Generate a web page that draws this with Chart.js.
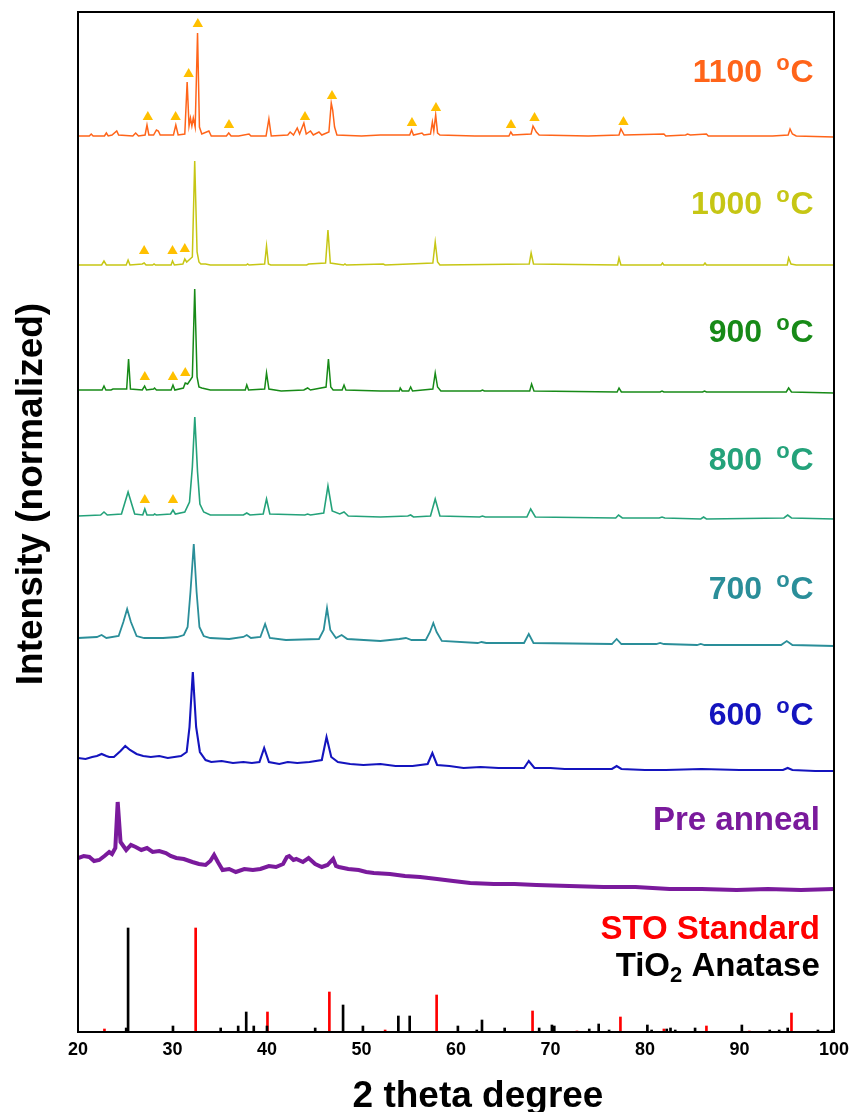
<!DOCTYPE html>
<html lang="en">
<head>
<meta charset="UTF-8">
<title>XRD anneal series</title>
<script src="https://cdn.jsdelivr.net/npm/chart.js"></script>
<style>
  body { margin: 0; background: #fff; }
  #wrap { position: relative; width: 851px; height: 1112px; }
</style>
</head>
<body>
<div id="wrap"><canvas id="xrd"></canvas></div>
<script>
// [2theta, stacked intensity], arbitrary units (offsets included)
const trace1100 = [[20,896],[21.2,896],[21.4,898],[21.6,896],[22.8,896],[23.0,899],[23.2,896],[23.6,897],[24.1,901],[24.3,897],[25.8,896],[26.1,899],[26.4,896],[27.1,897],[27.3,907],[27.5,897],[28.0,897],[28.3,902],[28.5,901],[28.7,897],[30.1,897],[30.35,907],[30.6,897],[31.3,898],[31.55,950],[31.75,906],[31.9,914],[32.05,906],[32.2,914],[32.4,905],[32.65,999],[32.85,905],[33.1,898],[33.85,901],[34.1,896],[35.7,896],[35.95,899],[36.2,896],[37.0,896],[38.1,898],[38.3,896],[39.9,896],[40.2,913],[40.45,896],[42.2,897],[42.45,900],[42.8,897],[43.2,904],[43.45,898],[43.9,909],[44.15,898],[44.6,901],[44.9,897],[45.5,900],[45.8,897],[46.55,900],[46.8,929],[46.95,922],[47.15,905],[47.4,897],[50,896],[52.0,897],[53.0,897],[55.1,897],[55.3,902],[55.5,897],[56.4,899],[56.6,897],[57.3,898],[57.5,910],[57.65,901],[57.85,917],[58.05,899],[58.3,897],[62,896],[65.6,896],[65.8,900],[66.0,897],[67.95,898],[68.15,906],[68.5,900],[68.8,897],[74,896],[77.25,897],[77.45,903],[77.8,897],[82.0,898],[82.2,896],[84.3,897],[84.5,898],[84.8,897],[86.5,898],[86.7,896],[93.5,896],[95.15,897],[95.35,903],[95.6,898],[96,896],[100,895]];
const trace1000 = [[20,767],[22.5,767],[22.75,771],[23.0,767],[25.1,767],[25.3,772],[25.5,767],[26.8,768],[27.0,769],[27.2,767],[27.9,767],[28.05,768],[28.2,767],[29.85,767],[30.0,771],[30.2,767],[31.1,768],[31.3,773],[31.5,770],[32.1,775],[32.35,871],[32.6,780],[32.8,770],[33.0,768],[33.5,768],[34,767],[37.8,767],[37.95,768],[38.1,767],[39.75,768],[39.95,786],[40.15,768],[40.4,767],[44.2,767],[44.4,768],[46.2,769],[46.45,802],[46.7,769],[48.1,767],[48.25,768],[48.4,767],[52.3,768],[52.5,767],[57.55,769],[57.8,790],[58.05,770],[58.3,767],[67.75,768],[67.95,779],[68.2,768],[77.1,767],[77.25,774],[77.45,767],[81.7,767],[81.85,769],[82.0,767],[86.2,767],[86.35,769],[86.5,767],[95.05,767],[95.2,774],[95.45,768],[96,767],[100,767]];
const trace900 = [[20,642],[22.55,642],[22.75,646],[22.95,642],[23.5,642],[23.7,643],[25.15,643],[25.35,673],[25.55,643],[26.8,642],[27.05,646],[27.25,642],[28.0,643],[28.1,644],[28.3,642],[29.85,642],[30.05,647],[30.25,642],[31.15,644],[31.35,649],[31.6,648],[32.1,655],[32.35,743],[32.6,655],[32.8,645],[33.1,644],[34,642],[37.7,642],[37.86,647],[38.05,642],[39.75,643],[39.95,659],[40.2,643],[41.5,641],[43.9,642],[44.3,644],[44.6,642],[46.25,645],[46.5,673],[46.75,645],[47.0,642],[47.95,642],[48.15,647],[48.35,642],[52,641],[54.0,641],[54.1,644],[54.3,641],[55.0,641],[55.2,645],[55.4,641],[57.55,643],[57.8,659],[58.05,645],[58.4,641],[62.6,641],[62.8,642],[63.0,641],[67.8,641],[68.0,648],[68.25,641],[77.05,640],[77.25,644],[77.5,640],[81.6,640],[81.8,641],[82.0,640],[86.1,640],[86.3,641],[86.5,640],[94.95,640],[95.2,644],[95.5,640],[100,639]];
const trace800 = [[20,516],[22.4,517],[22.75,520],[23.1,517],[24.6,518],[25.3,540],[26.0,518],[26.85,517],[27.07,523],[27.3,517],[28.0,517],[28.1,518],[28.3,517],[29.8,518],[30.05,522],[30.3,518],[31.3,520],[31.8,530],[32.1,565],[32.36,615],[32.65,560],[32.9,528],[33.3,520],[34,517],[37.5,517],[37.86,519],[38.2,517],[39.6,518],[39.95,533],[40.3,518],[44.0,517],[44.3,518],[44.6,517],[46.0,519],[46.45,546],[46.9,521],[47.7,518],[48.15,520],[48.6,516],[52,515],[54.9,516],[55.2,517],[55.5,515],[57.3,516],[57.8,533],[58.3,516],[62.5,515],[62.8,516],[63.1,515],[67.5,515],[67.9,523],[68.4,515],[76.9,514],[77.2,517],[77.6,514],[81.5,514],[81.8,515],[82.1,514],[85.9,513],[86.2,515],[86.5,513],[94.7,514],[95.1,517],[95.5,514],[100,513]];
const trace700 = [[20,394],[22.0,395],[22.5,397],[23.0,394],[24.3,396],[24.8,410],[25.2,423],[25.6,410],[26.2,396],[27,394],[29,394],[30.5,395],[31.2,397],[31.6,405],[31.9,440],[32.25,488],[32.55,440],[32.85,405],[33.3,396],[34,394],[36,393],[37.5,395],[37.86,397],[38.3,394],[39.3,395],[39.8,408],[40.3,394],[42,392],[45.5,393],[46.0,402],[46.35,424],[46.7,402],[47.3,394],[47.9,397],[48.5,393],[52,391],[54.0,393],[54.7,394],[55.3,392],[56.8,392],[57.25,400],[57.6,409],[57.95,400],[58.5,391],[62.3,389],[62.7,390],[63.2,389],[67.2,389],[67.7,398],[68.2,389],[76.5,388],[77.0,393],[77.5,388],[81.2,388],[81.6,389],[82.0,388],[85.5,387],[85.9,388],[86.3,387],[94.4,387],[95.0,391],[95.6,387],[100,386]];
const trace600 = [[20,274],[20.8,273],[21.5,275],[22.0,276],[22.5,278],[23.0,276],[23.3,275],[23.8,275],[24.5,281],[25.0,286],[25.5,282],[26.2,278],[26.9,276],[27.7,275],[28.6,276],[29.5,274],[30.9,276],[31.5,280],[31.8,305],[32.15,360],[32.5,305],[32.9,280],[33.5,272],[34.1,270],[35.2,271],[36.4,269],[37.5,270],[38.4,269],[39.2,270],[39.7,284],[40.2,270],[41.3,268],[42.2,270],[43.2,269],[44.5,270],[45.8,272],[46.3,295],[46.8,275],[47.5,270],[48.8,268],[50.2,267],[52.0,268],[53.6,266],[55.4,266],[57.0,268],[57.5,279],[58.0,267],[59.3,266],[60.8,264],[62.6,265],[64.5,264],[67.2,264],[67.7,271],[68.3,264],[70.0,264],[71.5,263],[74.0,263],[76.5,263],[77.0,266],[77.5,263],[80.0,262],[82.2,262],[86.0,263],[90.0,262],[94.6,262],[95.1,264],[95.6,262],[98,261],[100,261]];
const tracePre = [[20,174],[20.6,176],[21.2,175],[21.7,171],[22.25,172],[22.8,176],[23.3,180],[23.6,178],[23.95,184],[24.2,230],[24.5,190],[24.8,186],[25.1,182],[25.6,187],[26.1,185],[26.7,182],[27.3,184],[27.9,180],[28.6,181],[29.3,179],[29.8,176],[30.4,174],[31.2,173],[32.1,170],[32.8,168],[33.5,167],[34.0,171],[34.4,177],[34.8,170],[35.3,162],[36.0,163],[36.7,160],[37.6,163],[38.5,162],[39.3,163],[40.2,166],[40.95,165],[41.7,168],[42.1,175],[42.35,176],[42.8,172],[43.1,173],[43.8,170],[44.4,174],[45.1,168],[45.8,165],[46.4,167],[47.0,173],[47.3,166],[47.6,165],[48.6,163],[49.7,162],[50.5,160],[51.3,159],[53.0,158],[54.6,156],[56.2,155],[58.0,153],[59.7,151],[61.5,149],[64.0,148],[66.2,148],[68.5,147],[72.0,146],[75.6,145],[79.0,145],[82.6,143],[86.0,143],[89.7,142],[93.0,143],[96.5,142],[100,143]];

// triangle markers over the extra phase peaks
const marks1100 = [[27.39,915],[30.33,915],[31.71,958],[32.68,1008],[35.98,907],[44.02,915],[46.88,936],[55.34,909],[57.88,924],[65.82,907],[68.31,914],[77.72,910]];
const marks1000 = [[27.0,781],[30.0,781],[31.3,783]];
const marks900 = [[27.07,655],[30.05,655],[31.35,659]];
const marks800 = [[27.07,532],[30.05,532]];

// reference patterns, stick heights
const stoStandard = [[22.8,3],[32.45,104],[40.05,20],[46.6,40],[52.5,2],[57.95,37],[68.1,21],[72.8,1],[77.4,15],[82.0,3],[86.5,6],[91.05,1],[95.5,19]];
const tio2Anatase = [[25.1,4],[25.3,104],[30.05,6],[35.1,4],[36.95,6],[37.8,20],[38.6,6],[40.0,6],[45.1,4],[48.05,27],[50.15,6],[53.9,16],[55.1,16],[60.2,6],[62.2,2],[62.75,12],[65.15,4],[68.8,4],[70.15,7],[70.4,6],[74.1,3],[75.1,8],[76.2,2],[80.25,7],[80.7,2],[82.3,3],[82.7,4],[83.2,2],[85.3,4],[90.25,7],[93.2,2],[94.2,2],[95.1,4],[98.3,2],[99.8,2]];

const sampleNames = ['1100', '1000', '900', '800', '700', '600'];
const xTicks = [20, 30, 40, 50, 60, 70, 80, 90, 100];

const FONT = "'Liberation Sans', Arial, sans-serif";
const sampleColors = ['#FF6419', '#C6C614', '#178A17', '#24A27A', '#2A8E99', '#1414BE', '#7A1A9C'];
// label anchor (y in data units), kept separate from the data
const labelY = [962, 830, 702, 574, 445, 319];

const toXY = arr => arr.map(p => ({ x: p[0], y: p[1] }));

function lineSet(data, color, width) {
    return {
        type: 'line',
        data: toXY(data),
        borderColor: color,
        borderWidth: width,
        pointRadius: 0,
        tension: 0,
        order: 1
    };
}

const textPlugin = {
    id: 'textPlugin',
    afterDraw(chart) {
        const ctx = chart.ctx;
        const xs = chart.scales.x, ys = chart.scales.y;
        const a = chart.chartArea;
        ctx.save();

        // frame
        ctx.strokeStyle = '#000';
        ctx.lineWidth = 2;
        ctx.strokeRect(a.left, a.top, a.right - a.left, a.bottom - a.top);

        ctx.textBaseline = 'alphabetic';
        ctx.textAlign = 'right';

        // temperature labels: "1100 °C" with a raised small o
        sampleNames.forEach((name, i) => {
            const right = xs.getPixelForValue(97.85);
            const base = ys.getPixelForValue(labelY[i]) + 11.5;
            ctx.fillStyle = sampleColors[i];
            ctx.font = 'bold 32px ' + FONT;
            ctx.fillText('C', right, base);
            const cW = ctx.measureText('C').width;
            ctx.font = 'bold 22px ' + FONT;
            const oRight = right - cW - 1;
            ctx.fillText('o', oRight, base - 12);
            const oW = ctx.measureText('o').width;
            ctx.font = 'bold 32px ' + FONT;
            ctx.fillText(name, oRight - oW - 14, base);
        });

        const r2 = xs.getPixelForValue(98.5);
        ctx.font = 'bold 33px ' + FONT;
        ctx.fillStyle = sampleColors[6];
        ctx.fillText('Pre anneal', r2, ys.getPixelForValue(214) + 12);
        ctx.fillStyle = '#FF0000';
        ctx.fillText('STO Standard', r2, ys.getPixelForValue(105) + 12);

        // TiO2 with subscript
        const tb = ys.getPixelForValue(68.5) + 12;
        ctx.fillStyle = '#000';
        ctx.fillText(' Anatase', r2, tb);
        const aw = ctx.measureText(' Anatase').width;
        ctx.font = 'bold 22px ' + FONT;
        ctx.fillText('2', r2 - aw, tb + 6);
        const sw = ctx.measureText('2').width;
        ctx.font = 'bold 33px ' + FONT;
        ctx.fillText('TiO', r2 - aw - sw, tb);

        // axis titles
        ctx.font = 'bold 37px ' + FONT;
        ctx.textAlign = 'center';
        ctx.fillText('2 theta degree', 478, 1107);
        ctx.translate(42, 494);
        ctx.rotate(-Math.PI / 2);
        ctx.fillText('Intensity (normalized)', 0, 0);
        ctx.restore();
    }
};

const traces = [trace1100, trace1000, trace900, trace800, trace700, trace600, tracePre];
const widths = [1.5, 1.5, 1.5, 1.6, 1.8, 2.1, 4];

new Chart(document.getElementById('xrd'), {
    type: 'line',
    data: {
        datasets: [
            {
                type: 'scatter',
                data: toXY([...marks1100, ...marks1000, ...marks900, ...marks800]),
                pointStyle: 'triangle',
                pointRadius: 6,
                backgroundColor: '#FFC000',
                borderWidth: 0,
                order: 0
            },
            ...traces.map((t, i) => lineSet(t, sampleColors[i], widths[i])),
            {
                type: 'bar',
                data: toXY(tio2Anatase),
                backgroundColor: '#000',
                barThickness: 2,
                grouped: false,
                order: 2
            },
            {
                type: 'bar',
                data: toXY(stoStandard),
                backgroundColor: '#FF0000',
                barThickness: 2,
                grouped: false,
                order: 3
            }
        ]
    },
    options: {
        responsive: true,
        maintainAspectRatio: false,
        animation: false,
        layout: { padding: { top: 12, right: 17, left: 0, bottom: 0 } },
        plugins: { legend: { display: false }, tooltip: { enabled: false } },
        scales: {
            x: {
                type: 'linear',
                min: 20,
                max: 100,
                offset: false,
                grid: { display: false, drawTicks: false },
                border: { display: false },
                afterBuildTicks: s => { s.ticks = xTicks.map(v => ({ value: v })); },
                ticks: {
                    color: '#000',
                    padding: 7,
                    font: { family: FONT, size: 18, weight: 'bold' }
                },
                afterFit: s => {
                    s.height = 80;
                    s.paddingLeft = 0;
                    s.paddingRight = 0;
                }
            },
            y: {
                type: 'linear',
                min: 0,
                max: 1020,
                grid: { display: false, drawTicks: false },
                border: { display: false },
                ticks: { display: false },
                afterFit: s => { s.width = 78; }
            }
        }
    },
    plugins: [textPlugin]
});
</script>
</body>
</html>
